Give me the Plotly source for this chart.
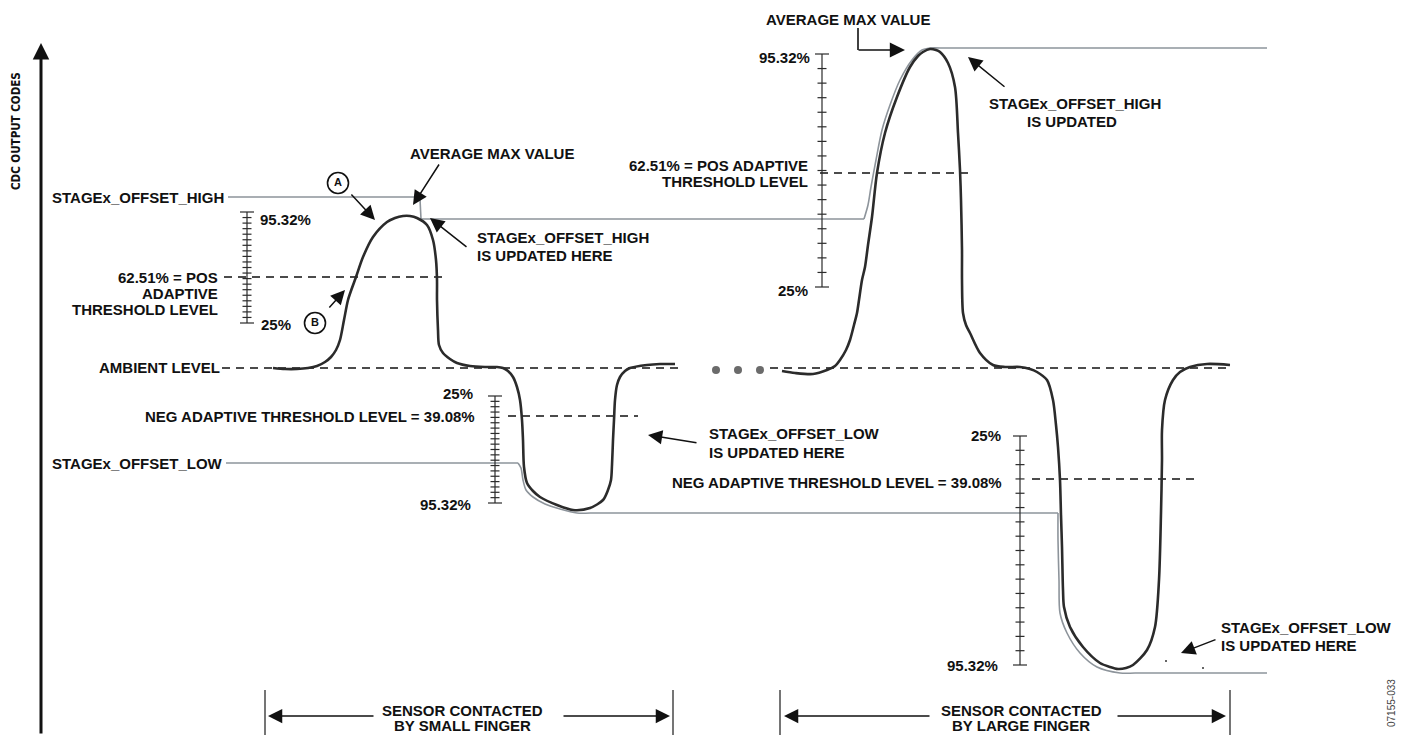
import plotly.graph_objects as go

# ── Data (diagram units: pixels of the 1406 x 735 drawing, y grows downward) ──

# CDC output, small finger contact
SMALL_X = [273, 285, 297, 308, 317, 325, 331, 336, 340, 344, 348, 352, 356, 363, 373,
           387, 395, 403, 410, 417, 427, 433, 436, 437, 437, 438, 439, 443, 450, 457,
           470, 485, 497, 503, 508, 513, 517, 520, 522, 523, 524, 527, 533, 540, 557,
           573, 590, 603, 608, 611, 612, 613, 614, 615, 617, 620, 625, 630, 647, 660, 675]
SMALL_Y = [368, 369, 369, 368, 366, 362, 357, 350, 340, 320, 300, 288, 277, 257, 237,
           222, 218, 216, 216, 218, 225, 240, 260, 280, 300, 330, 345, 353, 359, 363,
           366, 367, 367, 368, 371, 377, 387, 400, 420, 440, 467, 483, 491, 497, 505,
           510, 508, 500, 490, 480, 465, 440, 420, 400, 385, 377, 371, 368, 365, 364, 364]

# CDC output, large finger contact
LARGE_X = [782, 795, 813, 827, 835, 840, 846, 850, 854, 857, 859, 862, 865, 868, 872,
           877, 885, 897, 910, 918, 923, 930, 936, 940, 948, 955, 958, 960, 961, 962,
           962, 963, 966, 970, 980, 993, 1005, 1020, 1030, 1037, 1047, 1053, 1056, 1058,
           1060, 1061, 1062, 1063, 1064, 1070, 1083, 1100, 1110, 1118, 1126, 1133, 1147,
           1155, 1159, 1161, 1162, 1162, 1165, 1173, 1180, 1190, 1207, 1230]
LARGE_Y = [371, 373, 374, 370, 366, 360, 350, 340, 325, 313, 300, 280, 267, 245, 217,
           173, 133, 97, 67, 56, 52, 49, 50, 52, 63, 87, 133, 170, 200, 250,
           280, 313, 325, 333, 353, 365, 367, 367, 369, 372, 380, 400, 425, 447,
           480, 515, 547, 590, 607, 627, 647, 663, 667, 669, 668, 665, 650,
           627, 580, 513, 460, 430, 400, 380, 372, 367, 364, 365]

# STAGEx_OFFSET_HIGH (grey): straight parts and the part that tracks the large peak
HIGH_LIN_X = [228, 418, 420, 421, 864]
HIGH_LIN_Y = [197, 197, 199, 219, 219]
HIGH_CURVE_X = [864, 868, 871, 876, 882, 890, 900, 912, 922, 930, 940]
HIGH_CURVE_Y = [219, 205, 187, 160, 130, 105, 80, 60, 50, 48, 48]
HIGH_END_X = [940, 1267]
HIGH_END_Y = [48, 48]

# STAGEx_OFFSET_LOW (grey)
LOW_LIN1_X = [226, 518]
LOW_LIN1_Y = [463, 463]
LOW_CURVE1_X = [518, 521, 523, 526, 533, 545, 560, 577, 590]
LOW_CURVE1_Y = [463, 468, 480, 490, 497, 504, 509, 513, 513]
LOW_LIN2_X = [590, 1058]
LOW_LIN2_Y = [513, 513]
LOW_CURVE2_X = [1058, 1058, 1059, 1060, 1067, 1080, 1097, 1120, 1135]
LOW_CURVE2_Y = [513, 540, 580, 613, 633, 653, 667, 673, 673]
LOW_END_X = [1135, 1267]
LOW_END_Y = [673, 673]

# dashed reference levels: (x start, x end, y)
DASH_LEVELS = [
    (222, 682, 368),   # ambient, left
    (770, 1232, 368),  # ambient, right
    (224, 447, 277),   # pos threshold, small
    (508, 638, 416),   # neg threshold, small
    (820, 968, 173),   # pos threshold, large
    (1032, 1195, 479), # neg threshold, large
]

# percentage ladders: spine x, top y, bottom y, intervals
LADDER_X = [247, 495, 822, 1020]
LADDER_TOP = [212, 396, 54, 436]
LADDER_BOTTOM = [323, 503, 287, 665]
LADDER_STEPS = [20, 20, 16, 16]

DOTS_X = [716, 738, 760]
DOTS_Y = [370, 370, 370]

INK = "#2b2b2b"
GREY = "#8d949b"
FONT = "Liberation Sans, Arial, sans-serif"
NARROW = "Liberation Sans Narrow, Arial Narrow, DejaVu Sans Condensed, sans-serif"

# the page body keeps its default 8px margin, so the figure starts 8px in
PAGE_PAD = 8

fig = go.Figure()


def line(x, y, color=INK, width=1.4, dash=None, shape="linear"):
    fig.add_trace(go.Scatter(
        x=x, y=y, mode="lines", hoverinfo="skip", showlegend=False,
        line=dict(color=color, width=width, dash=dash, shape=shape, smoothing=0.8),
    ))


# grey offset tracks
line(HIGH_LIN_X, HIGH_LIN_Y, GREY, 1.6)
line(HIGH_CURVE_X, HIGH_CURVE_Y, GREY, 1.6, shape="spline")
line(HIGH_END_X, HIGH_END_Y, GREY, 1.6)
line(LOW_LIN1_X, LOW_LIN1_Y, GREY, 1.6)
line(LOW_CURVE1_X, LOW_CURVE1_Y, GREY, 1.6, shape="spline")
line(LOW_LIN2_X, LOW_LIN2_Y, GREY, 1.6)
line(LOW_CURVE2_X, LOW_CURVE2_Y, GREY, 1.6, shape="spline")
line(LOW_END_X, LOW_END_Y, GREY, 1.6)

# dashed levels
for x0, x1, yv in DASH_LEVELS:
    line([x0, x1], [yv, yv], "#111111", 1.3, dash="8px,6px")

# ladders
lx, ly = [], []
for xs, top, bot, n in zip(LADDER_X, LADDER_TOP, LADDER_BOTTOM, LADDER_STEPS):
    lx += [xs, xs, None]
    ly += [top, bot, None]
    for i in range(n + 1):
        yv = top + (bot - top) * i / n
        half = 7 if i in (0, n) else 4.5
        lx += [xs - half, xs + half, None]
        ly += [yv, yv, None]
line(lx, ly, INK, 1.2)

# output curves
line(SMALL_X, SMALL_Y, INK, 2.6, shape="spline")
line(LARGE_X, LARGE_Y, INK, 2.6, shape="spline")

# ellipsis and stray dots
fig.add_trace(go.Scatter(x=DOTS_X, y=DOTS_Y, mode="markers", hoverinfo="skip",
                         showlegend=False, marker=dict(color="#6b6b6b", size=8)))
fig.add_trace(go.Scatter(x=[1166, 1203], y=[661, 668], mode="markers", hoverinfo="skip",
                         showlegend=False, marker=dict(color="#333", size=2)))

# bracket verticals and elbow of top arrow
for xv in [265, 673, 780, 1230]:
    line([xv, xv], [690, 735], INK, 1.3)
line([858, 858], [28, 50], "#111111", 1.6)

# circled markers A and B
fig.add_trace(go.Scatter(
    x=[338, 315], y=[183, 323], mode="markers+text", text=["A", "B"],
    textposition="middle center", hoverinfo="skip", showlegend=False,
    textfont=dict(family=FONT, size=11, color="#111", weight="bold"),
    marker=dict(size=21, color="white", line=dict(color="#111", width=1.6)),
))

annotations = []


def label(x, y, text, anchor="left", size=15, angle=0, weight="bold", color="#111",
          family=FONT):
    annotations.append(dict(
        x=x, y=y, xref="x", yref="y", text=text, showarrow=False,
        xanchor=anchor, yanchor="middle", textangle=angle,
        font=dict(family=family, size=size, color=color, weight=weight),
    ))


def arrow(tip, tail, width=1.5, size=1.9):
    annotations.append(dict(
        x=tip[0], y=tip[1], ax=tail[0], ay=tail[1], xref="x", yref="y",
        axref="x", ayref="y", text="", showarrow=True, arrowhead=2,
        arrowsize=size, arrowwidth=width, arrowcolor="#111", standoff=0,
    ))


# y axis
arrow((41, 43), (41, 735), width=3, size=1.1)
label(16, 131, "CDC OUTPUT CODES", "center", 11.5, -90, family=NARROW)

# left hand labels
label(50, 197, "STAGEx_OFFSET_HIGH")
label(258, 219, "95.32%")
label(259, 324, "25%")
label(220, 277, "62.51% = POS", "right")
label(220, 293, "ADAPTIVE", "right")
label(220, 309, "THRESHOLD LEVEL", "right")
label(222, 367, "AMBIENT LEVEL", "right")
label(475, 393, "25%", "right")
label(477, 416, "NEG ADAPTIVE THRESHOLD LEVEL = 39.08%", "right")
label(50, 463, "STAGEx_OFFSET_LOW")
label(473, 504, "95.32%", "right")

# small finger annotations
label(492, 153, "AVERAGE MAX VALUE", "center")
arrow((413, 205), (440, 163))
label(475, 237, "STAGEx_OFFSET_HIGH")
label(475, 255, "IS UPDATED HERE")
arrow((430, 218), (468, 248))
label(707, 433, "STAGEx_OFFSET_LOW")
label(707, 452, "IS UPDATED HERE")
arrow((648, 435), (698, 443))
arrow((375, 220), (350, 193))
arrow((345, 290), (328, 309))

# large finger annotations
label(848, 19, "AVERAGE MAX VALUE", "center")
arrow((905, 50), (857, 50), width=1.6)
label(812, 57, "95.32%", "right")
label(810, 165, "62.51% = POS ADAPTIVE", "right")
label(810, 181, "THRESHOLD LEVEL", "right")
label(810, 290, "25%", "right")
label(1075, 103, "STAGEx_OFFSET_HIGH", "center")
label(1072, 121, "IS UPDATED", "center")
arrow((968, 57), (1006, 88))
label(1003, 435, "25%", "right")
label(1004, 482, "NEG ADAPTIVE THRESHOLD LEVEL = 39.08%", "right")
label(1000, 665, "95.32%", "right")
label(1219, 627, "STAGEx_OFFSET_LOW")
label(1219, 645, "IS UPDATED HERE")
arrow((1181, 653), (1217, 639))

# contact brackets
label(462, 710, "SENSOR CONTACTED", "center")
label(462, 725, "BY SMALL FINGER", "center")
arrow((268, 716), (375, 716))
arrow((670, 716), (562, 716))
label(1021, 710, "SENSOR CONTACTED", "center")
label(1021, 725, "BY LARGE FINGER", "center")
arrow((784, 716), (931, 716))
arrow((1226, 716), (1116, 716))

label(1391, 703, "07155-033", "center", 10, -90, weight="normal", color="#444")

fig.update_layout(
    width=1406 - PAGE_PAD, height=735 - PAGE_PAD,
    margin=dict(l=0, r=0, t=0, b=0),
    paper_bgcolor="white", plot_bgcolor="white",
    xaxis=dict(range=[PAGE_PAD, 1406], visible=False, fixedrange=True),
    yaxis=dict(range=[735, PAGE_PAD], visible=False, fixedrange=True),
    annotations=annotations,
    showlegend=False,
)

fig.write_html("out.html")
